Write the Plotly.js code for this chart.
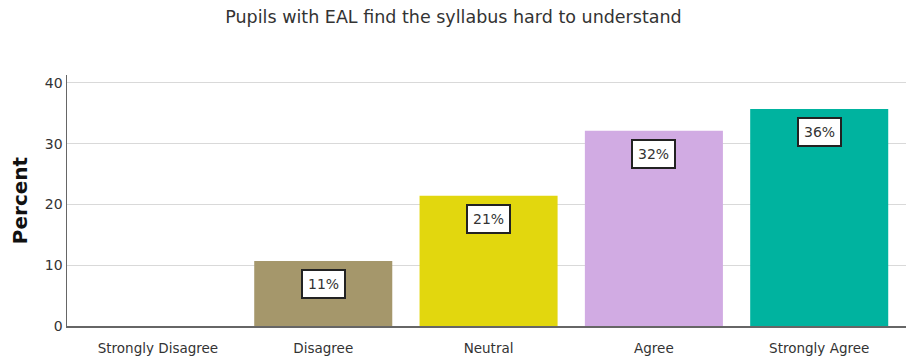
<!DOCTYPE html>
<html>
<head>
<meta charset="utf-8">
<script src="https://cdn.plot.ly/plotly-3.0.1.min.js"></script>
<style>html,body{margin:0;padding:0;background:#fff;}#chart{width:907px;height:357px;}</style>
</head>
<body>
<div id="chart"></div>
<script>
var categories = ["Strongly Disagree", "Disagree", "Neutral", "Agree", "Strongly Agree"];
var values = [0, 10.71, 21.43, 32.14, 35.71];
var labels = ["", "11%", "21%", "32%", "36%"];
var colors = ["#A5976B", "#A5976B", "#E2D70E", "#D1ABE3", "#00B39F"];

var FONT = "DejaVu Sans, Verdana, sans-serif";

var trace = {
  type: "bar",
  x: categories,
  y: values,
  marker: {color: colors},
  hoverinfo: "none"
};

var annotations = [];
for (var i = 0; i < categories.length; i++) {
  if (!labels[i]) continue;
  annotations.push({
    x: categories[i], y: values[i], xref: "x", yref: "y",
    text: labels[i], showarrow: false, yanchor: "top", yshift: -8,
    bgcolor: "#ffffff", bordercolor: "#222222", borderwidth: 2, borderpad: 5,
    font: {family: FONT, size: 14, color: "#333333"}
  });
}

var layout = {
  width: 907, height: 357,
  margin: {l: 67, r: 1, t: 75, b: 31},
  paper_bgcolor: "#fff", plot_bgcolor: "#fff",
  title: {text: "Pupils with EAL find the syllabus hard to understand", x: 0.5, xanchor: "center", y: 0.952, yanchor: "middle",
          font: {family: FONT, size: 17.5, color: "#333333"}},
  bargap: 0.165,
  xaxis: {
    range: [-0.55, 4.525], showgrid: false, zeroline: false,
    showline: true, linecolor: "#666666", linewidth: 1.5,
    ticks: "", ticklabelstandoff: 9, tickfont: {family: FONT, size: 13.5, color: "#333333"}
  },
  yaxis: {
    range: [0, 41.3], tickvals: [0, 10, 20, 30, 40],
    showgrid: true, gridcolor: "#d9d9d9", gridwidth: 1, zeroline: false,
    showline: true, linecolor: "#666666", linewidth: 1.5,
    ticks: "", ticklen: 0, tickfont: {family: FONT, size: 14, color: "#333333"},
    title: {text: "<b>Percent</b>", standoff: 12, font: {family: FONT, size: 20, color: "#111111"}}
  },
  annotations: annotations,
  showlegend: false
};

Plotly.newPlot("chart", [trace], layout, {displayModeBar: false, staticPlot: true});
</script>
</body>
</html>
